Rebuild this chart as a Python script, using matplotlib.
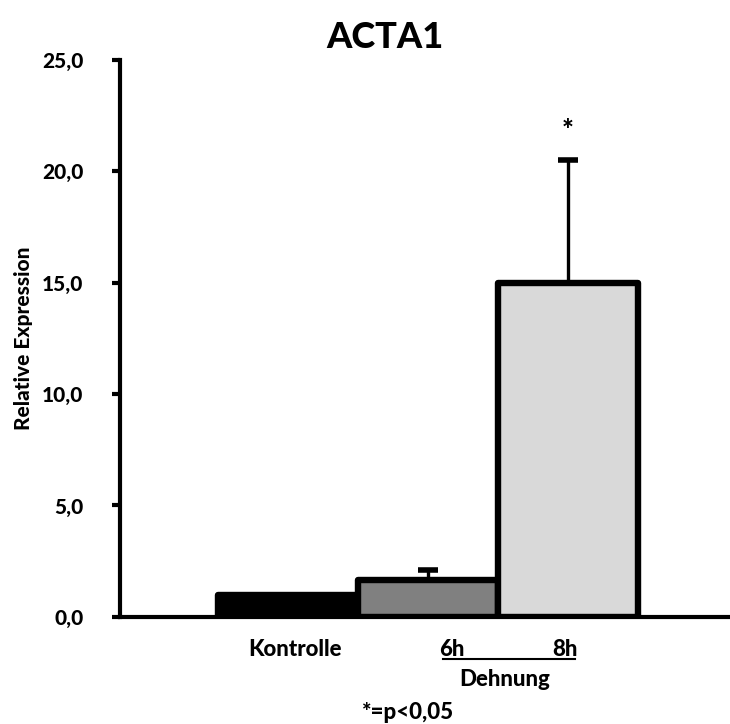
import numpy as np
import matplotlib.pyplot as plt

# values
groups = ['Kontrolle', '6h', '8h']
values = [1.0, 1.65, 15.0]
err_up = [0.0, 0.45, 5.5]
colors = ['#000000', '#808080', '#d9d9d9']
yticks = [0, 5, 10, 15, 20, 25]
ytick_labels = ['0,0', '5,0', '10,0', '15,0', '20,0', '25,0']

plt.rcParams['font.family'] = ['Lato', 'DejaVu Sans']
plt.rcParams['font.weight'] = 'black'
W = 'black'

fig = plt.figure(figsize=(7.3, 7.24), dpi=100)
ax = fig.add_axes([0.164, 0.148, 0.834, 0.769])

x = np.arange(len(groups))
bars = ax.bar(x, values, width=1.0, color=colors, edgecolor='black', linewidth=4.6, zorder=2)
for b in bars:
    b.set_joinstyle('round')

# upper error bars only
ax.errorbar(x[1:], values[1:], yerr=[np.zeros(2), err_up[1:]], fmt='none',
            ecolor='black', elinewidth=2.4, capsize=7, capthick=4, zorder=1)

ax.text(x[2], values[2] + err_up[2] + 1.3, '*', ha='center', va='center', fontsize=20, fontweight=W)

ax.set_xlim(-1.2, 3.15)
ax.set_ylim(0, 25)
ax.set_yticks(yticks)
ax.set_yticklabels(ytick_labels, fontsize=15, fontweight=W)
ax.set_xticks([])
ax.tick_params(axis='y', direction='out', length=6, width=3, pad=20)
for s in ['top', 'right']:
    ax.spines[s].set_visible(False)
ax.spines['left'].set_linewidth(3)
ax.spines['bottom'].set_linewidth(3)
ax.set_ylabel('Relative Expression', fontsize=15, fontweight=W, labelpad=7)
fig.text(0.527, 0.948, 'ACTA1', ha='center', va='center', fontsize=26, fontweight=W)

# group labels below the axis
ax.text(x[0] + 0.05, -1.45, groups[0], ha='center', va='center', fontsize=16, fontweight=W)
ax.text(x[1] + 0.17, -1.45, groups[1], ha='center', va='center', fontsize=16, fontweight=W)
ax.text(x[2] - 0.02, -1.45, groups[2], ha='center', va='center', fontsize=16, fontweight=W)
ax.plot([x[1] + 0.11, x[2] + 0.05], [-1.9, -1.9], color='black', lw=1.5, clip_on=False)
ax.text((x[1] + x[2]) / 2 + 0.05, -2.8, 'Dehnung', ha='center', va='center', fontsize=16, fontweight=W)
ax.text(x[1] - 0.14, -4.3, '*=p<0,05', ha='center', va='center', fontsize=16, fontweight=W)

fig.savefig('out.png', dpi=100)
